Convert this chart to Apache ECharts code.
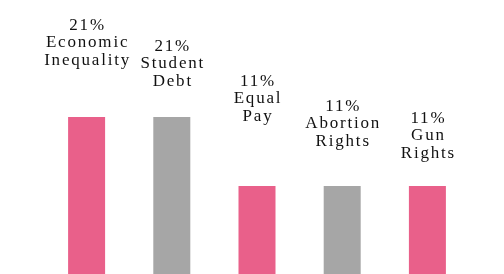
<!DOCTYPE html>
<html>
<head>
<meta charset="utf-8">
<script src="https://cdn.jsdelivr.net/npm/echarts@6/dist/echarts.min.js"></script>
<style>
html,body{margin:0;padding:0;background:#fff;}
#chart{width:504px;height:274px;}
</style>
</head>
<body>
<div id="chart"></div>
<script>
const categories = ["Economic Inequality", "Student Debt", "Equal Pay", "Abortion Rights", "Gun Rights"];
const values = [21, 21, 11, 11, 11];

// layout only: vertical shift of each label block (px)
const labelShift = [-43, -22, -56, -31, -19];
const colors = ['#E9608A', '#A6A6A6', '#E9608A', '#A6A6A6', '#E9608A'];

const chart = echarts.init(document.getElementById('chart'), null, {renderer: 'canvas'});
chart.setOption({
  animation: false,
  backgroundColor: '#ffffff',
  grid: {left: 44, right: 34, top: 0, bottom: 0},
  xAxis: {
    type: 'category', data: categories,
    axisLine: {show: false}, axisTick: {show: false}, axisLabel: {show: false}, splitLine: {show: false}
  },
  yAxis: {
    type: 'value', min: -1.75, max: 37.95, startValue: -1.75,
    axisLine: {show: false}, axisTick: {show: false}, axisLabel: {show: false}, splitLine: {show: false}
  },
  series: [{
    type: 'bar',
    barWidth: 37,
    data: values.map((v, i) => ({
      value: v,
      itemStyle: {color: colors[i]},
      label: {offset: [1, labelShift[i]]}
    })),
    label: {
      show: true,
      position: 'top',
      distance: 5,
      color: '#111',
      fontFamily: 'Liberation Serif',
      fontSize: 17,
      lineHeight: 17.5,
      align: 'center',
      formatter: p => p.value + '%\n' + p.name.replace(' ', '\n')
    }
  }]
});
// wider tracking for the label font, as in the reference
try {
  const cv = chart.getDom().querySelector('canvas');
  const ctx = cv.getContext('2d');
  if ('letterSpacing' in ctx) {
    ctx.letterSpacing = '1.8px';
    chart.getZr().painter.refresh(true);
  }
} catch (e) {}
</script>
</body>
</html>
